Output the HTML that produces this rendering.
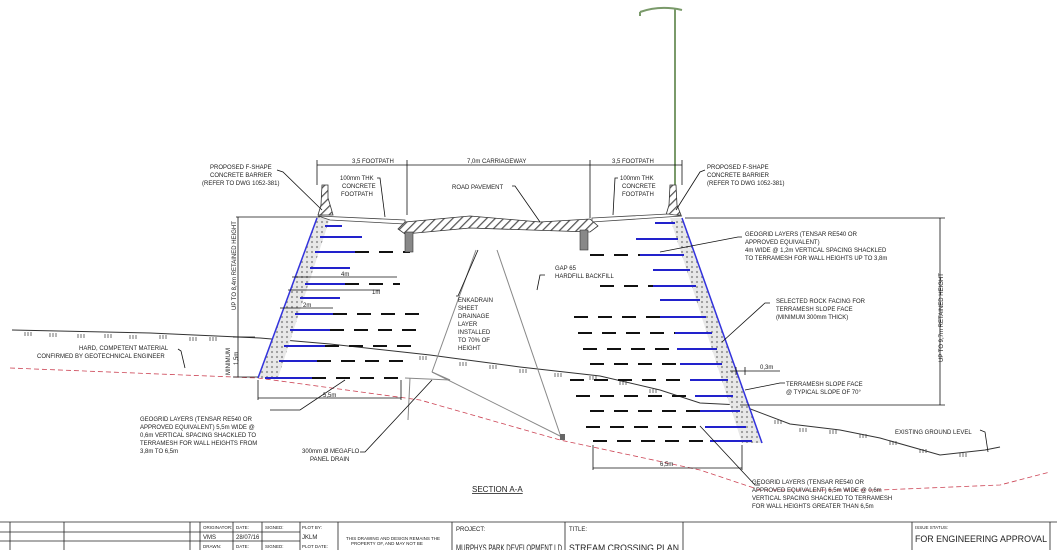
<!DOCTYPE html>
<html><head><meta charset="utf-8"><style>
body{margin:0;background:#fff;width:1057px;height:550px;overflow:hidden}
svg{display:block;font-family:"Liberation Sans",sans-serif}
</style></head><body>
<svg width="1057" height="550" viewBox="0 0 1057 550">
<defs>
<pattern id="h" width="6" height="6" patternUnits="userSpaceOnUse" patternTransform="rotate(45)"><rect width="6" height="6" fill="#fff"/><line x1="0" y1="0" x2="0" y2="6" stroke="#555" stroke-width="2.5"/></pattern>
<pattern id="s" width="5" height="5" patternUnits="userSpaceOnUse"><rect width="5" height="5" fill="#e8e8e8"/><circle cx="2" cy="2" r="1.1" fill="#999"/></pattern>
</defs>
<g font-size="6.5" fill="#222">
<!-- light pole -->
<path d="M675 185 L675 8 M640 12 Q660 5 682 10 M640 12 L640 16" stroke="#7a9a6a" stroke-width="2" fill="none"/>
<!-- ground -->
<polyline points="12,330 150,333 260,338 330,344 430,355 452,358 520,367 600,376 660,390 700,403 740,405 790,424 840,430 880,438 940,455 985,450 1000,447" fill="none" stroke="#333" stroke-width="1"/>
<g stroke="#333" stroke-width="0.7">
<path d="M25 332v4M28 332v4M31 332v4M50 333v4M53 333v4M56 333v4M78 334v4M81 334v4M84 334v4M105 334v4M108 334v4M111 334v4M130 335v4M133 335v4M136 335v4M160 335v4M163 335v4M166 335v4M190 337v4M193 337v4M196 337v4M210 337v4M213 337v4M216 337v4"/>
<path d="M420 356v4M423 356v4M426 356v4M460 362v4M463 362v4M466 362v4M490 365v4M493 365v4M496 365v4M520 369v4M523 369v4M526 369v4M555 373v4M558 373v4M561 373v4M590 376v4M593 376v4M596 376v4M620 381v4M623 381v4M626 381v4M650 389v4M653 389v4M656 389v4"/>
<path d="M775 420v4M778 420v4M781 420v4M800 428v4M803 428v4M806 428v4M830 430v4M833 430v4M836 430v4M860 434v4M863 434v4M866 434v4M890 441v4M893 441v4M896 441v4M920 449v4M923 449v4M926 449v4M960 453v4M963 453v4M966 453v4"/>
</g>
<polyline points="10,368 258,378 420,400 560,440 700,470 760,490 880,490 1000,485 1050,472" fill="none" stroke="#c45" stroke-width="0.8" stroke-dasharray="5,3"/>
<!-- left facing -->
<polygon points="317,218 330,218 278,378 258,378" fill="url(#s)"/>
<line x1="317" y1="218" x2="258" y2="378" stroke="#33d" stroke-width="1.5"/>
<!-- right facing -->
<polygon points="670,218 682,218 762,443 742,443" fill="url(#s)"/>
<line x1="682" y1="218" x2="762" y2="443" stroke="#33d" stroke-width="1.5"/>
<!-- left geogrids -->
<g stroke="#22c" stroke-width="2">
<line x1="325" y1="226" x2="342" y2="226"/><line x1="320" y1="237" x2="362" y2="237"/><line x1="315" y1="252" x2="355" y2="252"/>
<line x1="310" y1="268" x2="350" y2="268"/><line x1="305" y1="284" x2="345" y2="284"/><line x1="300" y1="298" x2="340" y2="298"/>
<line x1="295" y1="314" x2="333" y2="314"/><line x1="290" y1="330" x2="330" y2="330"/><line x1="284" y1="346" x2="325" y2="346"/>
<line x1="279" y1="361" x2="317" y2="361"/><line x1="265" y1="378" x2="312" y2="378"/></g>
<g stroke="#111" stroke-width="2" stroke-dasharray="14,10">
<line x1="355" y1="252" x2="410" y2="252"/><line x1="345" y1="284" x2="400" y2="284"/><line x1="333" y1="314" x2="425" y2="314"/>
<line x1="330" y1="330" x2="425" y2="330"/><line x1="325" y1="346" x2="415" y2="346"/><line x1="317" y1="361" x2="410" y2="361"/><line x1="312" y1="378" x2="403" y2="378"/></g>
<!-- right geogrids -->
<g stroke="#22c" stroke-width="2">
<line x1="655" y1="223" x2="675" y2="223"/><line x1="636" y1="239" x2="678" y2="239"/><line x1="640" y1="255" x2="684" y2="255"/>
<line x1="653" y1="270" x2="690" y2="270"/><line x1="653" y1="286" x2="696" y2="286"/><line x1="660" y1="300" x2="700" y2="300"/>
<line x1="660" y1="317" x2="706" y2="317"/><line x1="675" y1="333" x2="712" y2="333"/><line x1="677" y1="349" x2="717" y2="349"/>
<line x1="680" y1="364" x2="722" y2="364"/><line x1="690" y1="380" x2="728" y2="380"/><line x1="695" y1="396" x2="733" y2="396"/>
<line x1="700" y1="411" x2="740" y2="411"/><line x1="705" y1="427" x2="746" y2="427"/><line x1="710" y1="441" x2="752" y2="441"/></g>
<g stroke="#111" stroke-width="2" stroke-dasharray="14,10">
<line x1="590" y1="255" x2="640" y2="255"/><line x1="600" y1="286" x2="653" y2="286"/><line x1="574" y1="317" x2="660" y2="317"/>
<line x1="578" y1="333" x2="675" y2="333"/><line x1="583" y1="349" x2="677" y2="349"/><line x1="590" y1="364" x2="680" y2="364"/>
<line x1="570" y1="380" x2="690" y2="380"/><line x1="576" y1="396" x2="695" y2="396"/><line x1="590" y1="411" x2="700" y2="411"/>
<line x1="586" y1="427" x2="705" y2="427"/><line x1="593" y1="441" x2="710" y2="441"/></g>
<!-- barriers -->
<polygon points="322,185 328,185 328,198 331,208 333,215 318,215 321,205" fill="url(#h)" stroke="#333" stroke-width="0.8"/>
<polygon points="670,185 676,185 677,205 681,215 666,215 669,205" fill="url(#h)" stroke="#333" stroke-width="0.8"/>
<!-- footpaths -->
<polygon points="318,216 405,220 405,224 330,220" fill="#fff" stroke="#444" stroke-width="0.8"/>
<polygon points="592,218 668,214 682,216 592,222" fill="#fff" stroke="#444" stroke-width="0.8"/>
<!-- pavement -->
<path d="M405,222 L470,216 L540,222 L590,219 L598,226 L590,232 L470,228 L405,234 L398,229 Z" fill="url(#h)" stroke="#333" stroke-width="0.8"/>
<rect x="405" y="232" width="8" height="20" fill="#888" stroke="#333" stroke-width="0.6"/>
<rect x="580" y="230" width="8" height="20" fill="#888" stroke="#333" stroke-width="0.6"/>
<!-- drain -->
<g stroke="#888" stroke-width="1" fill="none">
<line x1="476" y1="250" x2="432" y2="372"/><line x1="497" y1="250" x2="562" y2="440"/>
<polyline points="432,372 450,380 405,378"/><line x1="432" y1="372" x2="562" y2="437"/>
<line x1="410" y1="378" x2="408" y2="420"/></g>
<rect x="560" y="434" width="5" height="6" fill="#666"/>
<!-- dims -->
<g stroke="#111" stroke-width="0.8" fill="none">
<line x1="317" y1="165" x2="682" y2="165"/><line x1="317" y1="160" x2="317" y2="185"/><line x1="407" y1="160" x2="407" y2="215"/>
<line x1="590" y1="160" x2="590" y2="218"/><line x1="682" y1="160" x2="682" y2="185"/>
<line x1="236" y1="217" x2="320" y2="217"/><line x1="238" y1="217" x2="238" y2="377"/><line x1="233" y1="337" x2="255" y2="337"/><line x1="233" y1="377" x2="258" y2="377"/>
<line x1="685" y1="218" x2="945" y2="218"/><line x1="940" y1="218" x2="940" y2="405"/><line x1="740" y1="405" x2="945" y2="405"/>
<line x1="292" y1="277" x2="397" y2="277"/><line x1="288" y1="290" x2="380" y2="290"/><line x1="280" y1="308" x2="333" y2="308"/>
<line x1="258" y1="398" x2="401" y2="398"/><line x1="258" y1="380" x2="258" y2="400"/><line x1="401" y1="380" x2="401" y2="400"/>
<line x1="593" y1="468" x2="742" y2="468"/><line x1="593" y1="445" x2="593" y2="470"/><line x1="742" y1="445" x2="742" y2="470"/>
<line x1="730" y1="371" x2="780" y2="371"/><line x1="736" y1="367" x2="736" y2="375"/><line x1="745" y1="367" x2="745" y2="375"/>
<!-- leaders -->
<polyline points="277,170 283,172 322,210"/><polyline points="705,170 700,172 676,210"/>
<polyline points="377,178 380,178 385,217"/><polyline points="618,178 615,178 613,215"/>
<polyline points="512,186 515,186 540,222"/><polyline points="742,237 738,237 660,252"/><polyline points="770,303 765,303 722,342"/>
<polyline points="785,383 780,383 745,390"/><polyline points="270,410 300,410 345,380"/><polyline points="760,485 755,485 700,426"/>
<polyline points="360,452 365,452 432,380"/><polyline points="456,296 458,296 478,250"/><polyline points="545,275 540,275 537,290"/>
<polyline points="980,430 985,432 988,452"/><polyline points="178,349 181,351 185,368"/>
</g>
<g font-size="6">
<text x="352" y="163">3,5 FOOTPATH</text><text x="467" y="163">7,0m CARRIAGEWAY</text><text x="612" y="163">3,5 FOOTPATH</text>
<text x="210" y="169">PROPOSED F-SHAPE</text><text x="210" y="177">CONCRETE BARRIER</text><text x="202" y="185">(REFER TO DWG 1052-381)</text>
<text x="707" y="169">PROPOSED F-SHAPE</text><text x="707" y="177">CONCRETE BARRIER</text><text x="707" y="185">(REFER TO DWG 1052-381)</text>
<text x="340" y="180">100mm THK</text><text x="342" y="188">CONCRETE</text><text x="341" y="196">FOOTPATH</text>
<text x="620" y="180">100mm THK</text><text x="622" y="188">CONCRETE</text><text x="622" y="196">FOOTPATH</text>
<text x="452" y="189">ROAD PAVEMENT</text>
<text x="745" y="236">GEOGRID LAYERS (TENSAR RE540 OR</text><text x="745" y="244">APPROVED EQUIVALENT)</text>
<text x="745" y="252">4m WIDE @ 1,2m VERTICAL SPACING SHACKLED</text><text x="745" y="260">TO TERRAMESH FOR WALL HEIGHTS UP TO 3,8m</text>
<text x="555" y="270">GAP 65</text><text x="555" y="278">HARDFILL BACKFILL</text>
<text x="776" y="303">SELECTED ROCK FACING FOR</text><text x="776" y="311">TERRAMESH SLOPE FACE</text><text x="776" y="319">(MINIMUM 300mm THICK)</text>
<text x="760" y="369">0,3m</text>
<text x="786" y="386">TERRAMESH SLOPE FACE</text><text x="786" y="394">@ TYPICAL SLOPE OF 70°</text>
<text x="895" y="434">EXISTING GROUND LEVEL</text>
<text x="458" y="302">ENKADRAIN</text><text x="458" y="310">SHEET</text><text x="458" y="318">DRAINAGE</text><text x="458" y="326">LAYER</text>
<text x="458" y="334">INSTALLED</text><text x="458" y="342">TO 70% OF</text><text x="458" y="350">HEIGHT</text>
<text x="341" y="276">4m</text><text x="372" y="294">1m</text><text x="303" y="307">2m</text>
<text x="79" y="350">HARD, COMPETENT MATERIAL</text><text x="37" y="358">CONFIRMED BY GEOTECHNICAL ENGINEER</text>
<text x="323" y="397">5,5m</text><text x="660" y="466">6,5m</text>
<text x="140" y="421">GEOGRID LAYERS (TENSAR RE540 OR</text><text x="140" y="429">APPROVED EQUIVALENT) 5,5m WIDE @</text>
<text x="140" y="437">0,6m VERTICAL SPACING SHACKLED TO</text><text x="140" y="445">TERRAMESH FOR WALL HEIGHTS FROM</text><text x="140" y="453">3,8m TO 6,5m</text>
<text x="302" y="453">300mm Ø MEGAFLO</text><text x="310" y="461">PANEL DRAIN</text>
<text x="752" y="484">GEOGRID LAYERS (TENSAR RE540 OR</text><text x="752" y="492">APPROVED EQUIVALENT) 6,5m WIDE @ 0,6m</text>
<text x="752" y="500">VERTICAL SPACING SHACKLED TO TERRAMESH</text><text x="752" y="508">FOR WALL HEIGHTS GREATER THAN 6,5m</text>
<text transform="translate(236,310) rotate(-90)">UP TO 8,4m RETAINED HEIGHT</text>
<text transform="translate(230,375) rotate(-90)">MINIMUM</text>
<text transform="translate(238,365) rotate(-90)">1,5m</text>
<text transform="translate(943,362) rotate(-90)">UP TO 9,7m RETAINED HEIGHT</text>
</g>
<text x="472" y="492" font-size="8" text-decoration="underline">SECTION A-A</text>
<!-- title block -->
<g stroke="#222" stroke-width="0.8" fill="none">
<line x1="0" y1="522" x2="1057" y2="522"/><line x1="0" y1="532" x2="200" y2="532"/><line x1="0" y1="541" x2="200" y2="541"/>
<line x1="200" y1="532" x2="300" y2="532"/><line x1="200" y1="541" x2="300" y2="541"/>
<line x1="10" y1="522" x2="10" y2="550"/><line x1="64" y1="522" x2="64" y2="550"/><line x1="190" y1="522" x2="190" y2="550"/>
<line x1="200" y1="522" x2="200" y2="550"/><line x1="233" y1="522" x2="233" y2="550"/><line x1="262" y1="522" x2="262" y2="550"/>
<line x1="300" y1="522" x2="300" y2="550"/><line x1="338" y1="522" x2="338" y2="550"/><line x1="452" y1="522" x2="452" y2="550"/>
<line x1="565" y1="522" x2="565" y2="550"/><line x1="683" y1="522" x2="683" y2="550"/><line x1="912" y1="522" x2="912" y2="550"/>
<line x1="1050" y1="522" x2="1050" y2="550"/></g>
<g font-size="4.5"><text x="203" y="529">ORIGINATOR:</text><text x="236" y="529">DATE:</text><text x="265" y="529">SIGNED:</text><text x="302" y="529">PLOT BY:</text>
<text x="203" y="548">DRAWN:</text><text x="236" y="548">DATE:</text><text x="265" y="548">SIGNED:</text><text x="302" y="548">PLOT DATE:</text>
<text x="346" y="540">THIS DRAWING AND DESIGN REMAINS THE</text><text x="351" y="545">PROPERTY OF, AND MAY NOT BE</text><text x="915" y="529">ISSUE STATUS:</text></g>
<g font-size="6"><text x="203" y="539">VMS</text><text x="236" y="539">28/07/16</text><text x="302" y="539">JKLM</text>
<text x="456" y="531">PROJECT:</text><text x="569" y="531">TITLE:</text></g>
<text x="456" y="551" font-size="9.5" textLength="106" lengthAdjust="spacingAndGlyphs">MURPHYS PARK DEVELOPMENT LD</text>
<text x="569" y="551" font-size="9.5" textLength="110" lengthAdjust="spacingAndGlyphs">STREAM CROSSING PLAN</text>
<text x="915" y="542" font-size="9.5" textLength="132" lengthAdjust="spacingAndGlyphs">FOR ENGINEERING APPROVAL</text>
</g>
</svg>
</body></html>
